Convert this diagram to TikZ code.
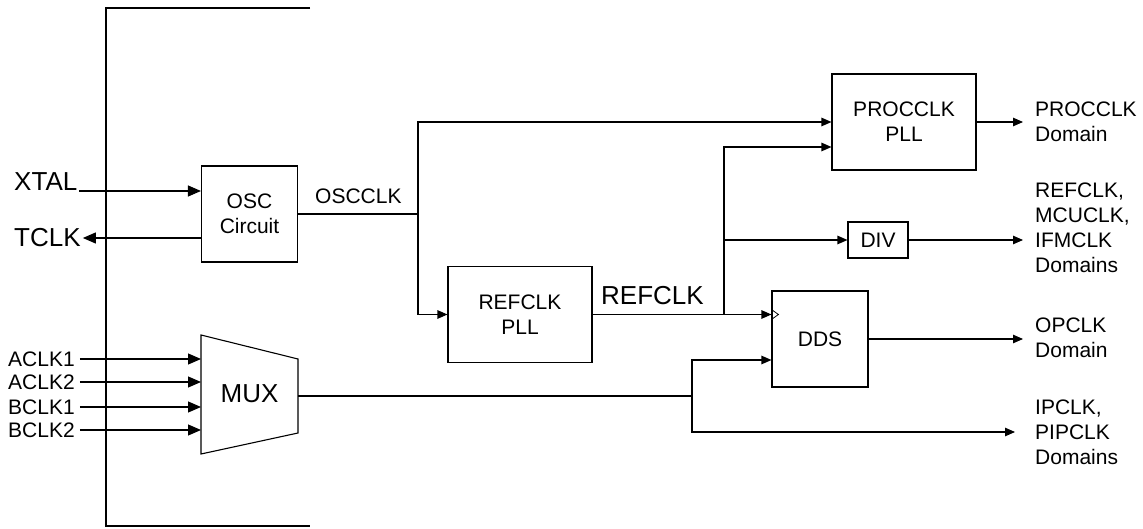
\documentclass[tikz,border=0pt]{standalone}
\usepackage{fontspec}
\setmainfont{Liberation Sans}
\usetikzlibrary{shapes,arrows.meta,positioning}
\tikzstyle{block} = [rectangle, draw, line width=1.1pt, minimum width=96pt,
    minimum height=96pt, align=center, inner sep=0pt, font=\fontsize{21}{25}\selectfont]
\tikzstyle{blockwide} = [block, minimum width=144pt]
\tikzstyle{signame} = [inner sep=2pt, inner xsep=5pt, font=\fontsize{21}{25}\selectfont]
\tikzstyle{bigname} = [inner sep=2pt, font=\fontsize{26}{30}\selectfont]
\tikzstyle{domname} = [anchor=west, inner sep=0pt, align=left, font=\fontsize{21}{25}\selectfont]
\tikzstyle{wire} = [draw, line width=1.1pt]
\tikzstyle{line} = [wire, -{Triangle[length=10pt,width=8.5pt]}]
\tikzstyle{bigline} = [wire, -{Triangle[length=13pt,width=11pt]}]
\begin{document}
\begin{tikzpicture}[x=1pt, y=-1pt]
    \useasboundingbox (0,0) rectangle (1143,529);
    % Chip edge
    \draw [line width=2pt] (310,8.5) -| (105.5,526) -- (310,526);
    % Place nodes
    \node [block] (osc) at (249.5,214) {OSC\\Circuit};
    \node [blockwide] (refpll) at (520,314.5) {REFCLK\\PLL};
    \node [blockwide] (procpll) at (904,122) {PROCCLK\\PLL};
    \node [block, minimum width=60pt, minimum height=36pt] (div) at (878,240) {DIV};
    \node [block] (dds) at (820,339) {DDS};
    \node [bigname, anchor=base west] (xtal) at (12,191) {XTAL};
    \node [bigname, anchor=west] (tclk) at (12,238) {TCLK};
    \node [signame, anchor=base west, inner sep=0pt] (oscclk) at (315,204) {OSCCLK};
    \node [bigname, anchor=base west, inner sep=0pt] (refclk) at (601,305) {REFCLK};
    \node [domname] (procd) at (1035,122) {PROCCLK\\Domain};
    \node [domname] (divd) at (1035,228) {REFCLK,\\MCUCLK,\\IFMCLK\\Domains};
    \node [domname] (opd) at (1035,338) {OPCLK\\Domain};
    \node [domname] (ipd) at (1035,432) {IPCLK,\\PIPCLK\\Domains};
    % MUX outline
    \coordinate (mux-nw) at (201,335);
    \coordinate (mux-ne) at (298,359);
    \coordinate (mux-se) at (298,433);
    \coordinate (mux-sw) at (201,454);
    \draw [line width=1.1pt] (mux-nw) -- (mux-ne) -- (mux-se) -- (mux-sw) -- cycle;
    \node [bigname] (mux) at (249.5,394) {MUX};
    \coordinate (muxout) at (298,396);
    % Junctions
    \coordinate (j1) at (418,214);
    \coordinate (j2) at (724,314.5);
    \coordinate (j3) at (692,396);
    % Draw edges
    \path [bigline] (xtal.base east) -- (xtal.base east -| osc.west);
    \path [bigline] (tclk.east -| osc.west) -- (tclk.east);
    \foreach \nm/\y in {ACLK1/359, ACLK2/382, BCLK1/407, BCLK2/430} {
        \node [signame, anchor=west] (\nm) at (3,\y) {\nm};
        \path [bigline] (\nm.east) -- (\nm.east -| mux-nw);
    }
    \path [wire] (osc.east) -- (j1);
    \path [line] (j1) |- (procpll.west);
    \path [line] (j1) |- (refpll.west);
    \path [line] (refpll.east) -- (refpll.east -| dds.west);
    \path [line] (j2) |- ([yshift=-25pt]procpll.west);
    \path [line] (j2) |- (div.west);
    \path [line, shorten >=12pt] (procpll.east) -- (procd.west);
    \path [line, shorten >=12pt] (div.east) -- (div.east -| divd.west);
    \path [line, shorten >=12pt] (dds.east) -- (dds.east -| opd.west);
    \path [wire] (muxout) -- (j3);
    \path [line] (j3) |- ([yshift=-21pt]dds.west);
    \path [line, shorten >=20pt] (j3) |- (ipd.west);
    % Clock mark on DDS
    \coordinate (ck) at (refpll.east -| dds.west);
    \draw [line width=0.8pt] ([yshift=5pt]ck) -- ([xshift=7pt]ck) -- ([yshift=-5pt]ck);
\end{tikzpicture}
\end{document}
